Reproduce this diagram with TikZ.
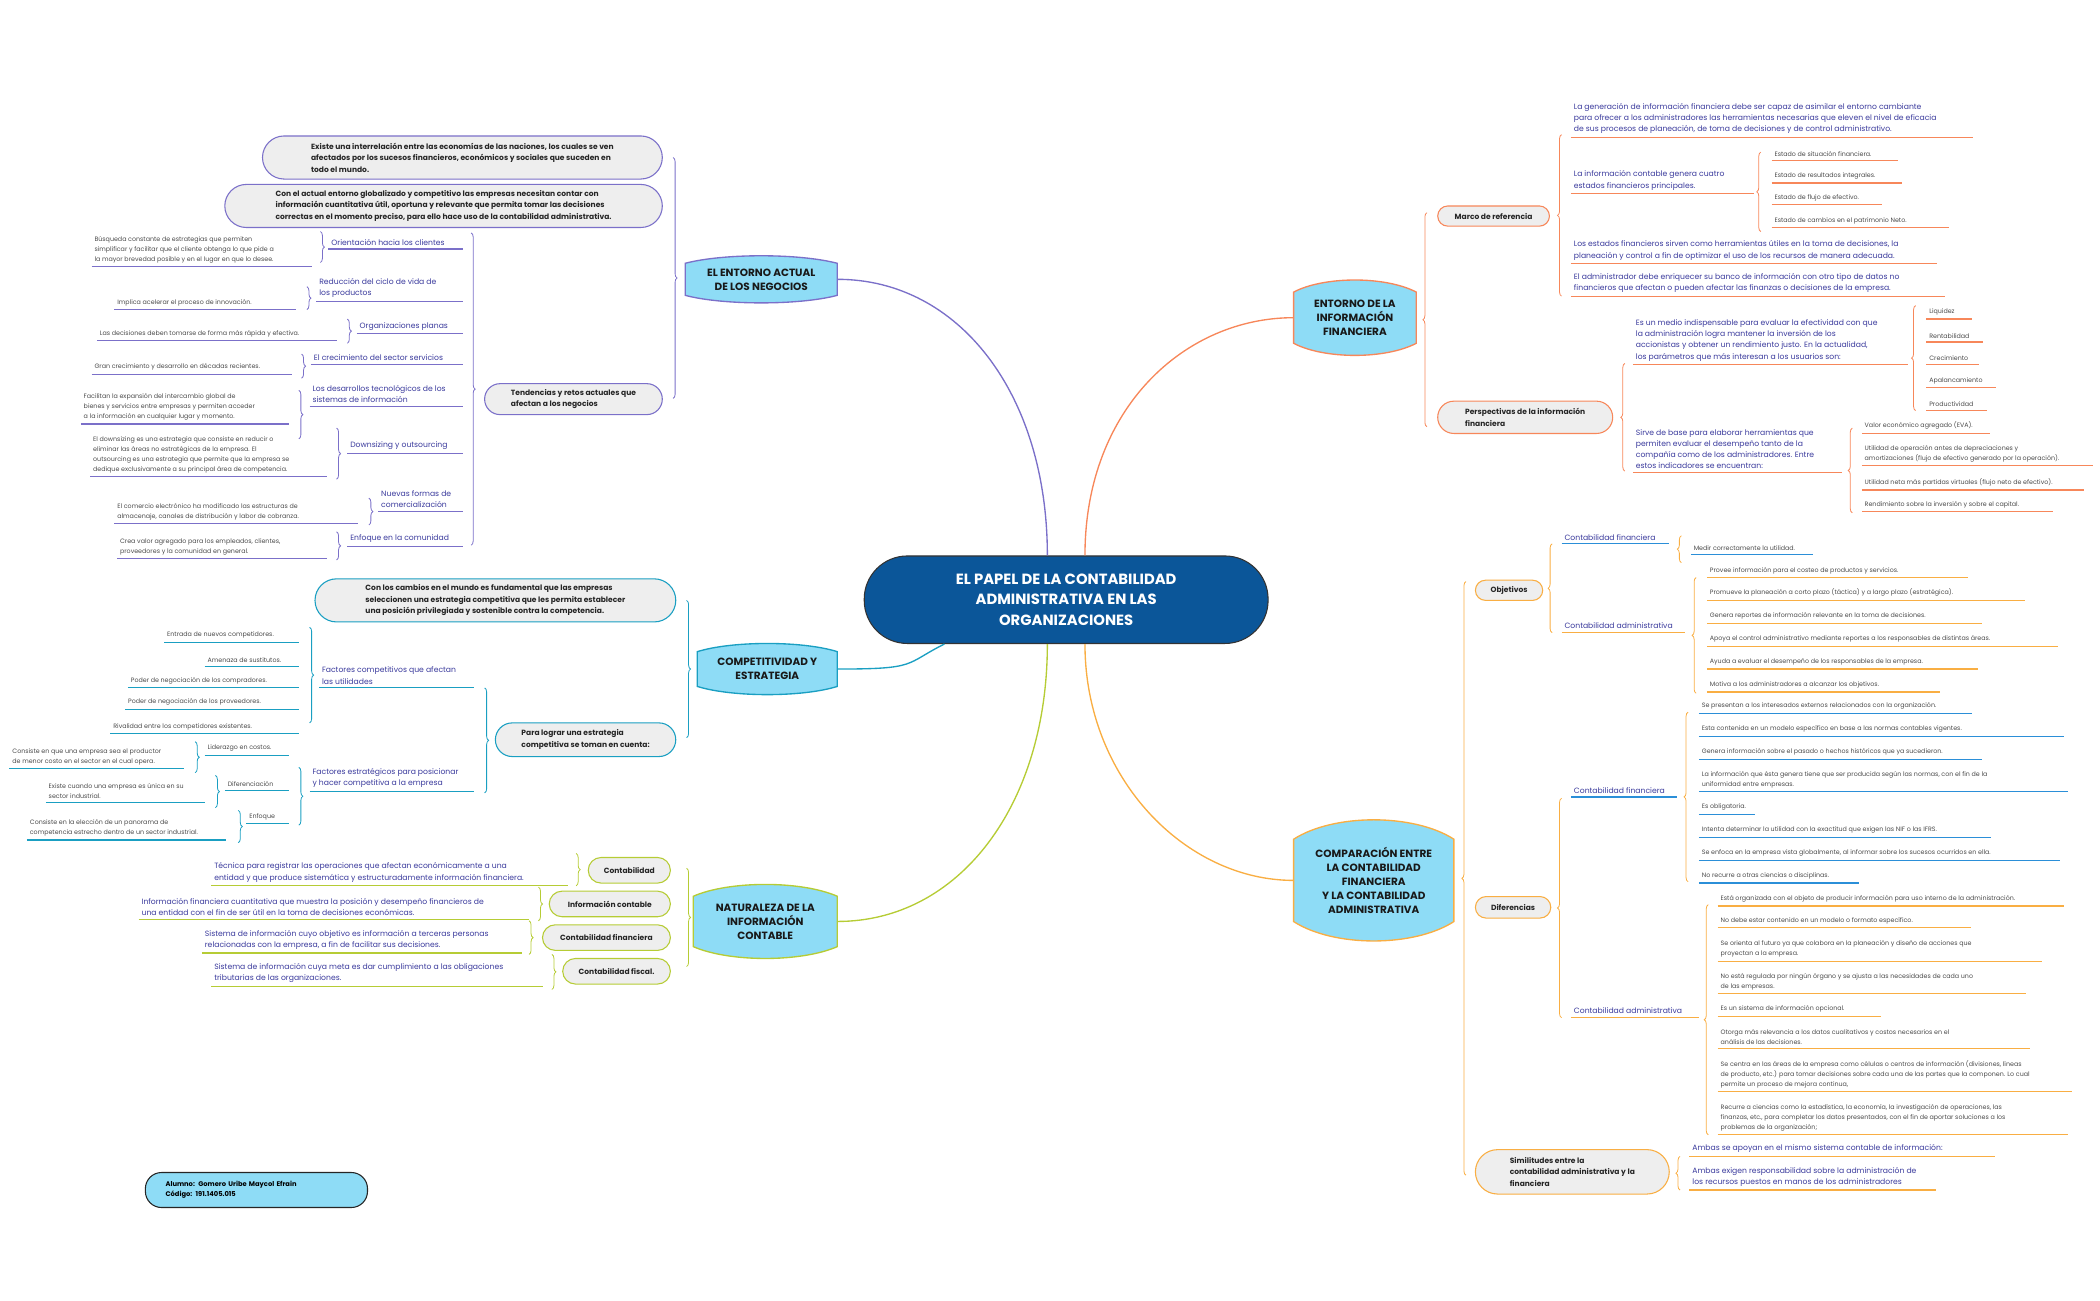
\documentclass[tikz,border=0pt]{standalone}
\usepackage{fontspec}
\setmainfont{Poppins}
\usetikzlibrary{decorations.pathreplacing}
\definecolor{pur}{HTML}{7B70C9}
\definecolor{txb}{HTML}{3A3A9C}
\definecolor{txg}{HTML}{4A4A4A}
\definecolor{ora}{HTML}{F7875A}
\definecolor{tea}{HTML}{1A9FC2}
\definecolor{grn}{HTML}{B6CC35}
\definecolor{yel}{HTML}{F9AE43}
\definecolor{lbl}{HTML}{8EDCF6}
\definecolor{gfl}{HTML}{EEEEEE}
\definecolor{ctrc}{HTML}{0B5699}
\definecolor{bul}{HTML}{2B8FD8}
\newcommand\fsm{\fontsize{4.7}{7.4}\selectfont}
\newcommand\fbl{\fontsize{5.7}{8.3}\selectfont}
\newcommand\fgr{\fontsize{5.6}{8.6}\selectfont\bfseries}
\newcommand\ftp{\fontsize{7.8}{10.4}\selectfont\bfseries}
\newcount\lfc
\newcommand\lf[6]{\global\advance\lfc by 1
 \node[anchor=south west,inner xsep=2pt,inner ysep=2.6pt,align=left,#5] (lf\the\lfc) at (#1,#3) {#6};
 \draw[#4,line width=0.9pt] (#1,#3) -- (#2,#3);}
\newcommand\brR[4]{\draw[#4,line width=0.6pt,decorate,decoration={brace,amplitude=3pt}] (#1,#2) -- (#1,#3);}
\newcommand\brL[4]{\draw[#4,line width=0.6pt,decorate,decoration={brace,amplitude=3pt}] (#1,#3) -- (#1,#2);}
\newcommand\gb[7]{% name x1 y1 x2 y2 color text
 \pgfmathsetmacro\gw{#4-#2}\pgfmathsetmacro\gh{#5-#3}\pgfmathsetmacro\gr{(#5-#3)/2}\pgfmathsetmacro\gt{#4-#2-2*\gr}
 \node[draw=#6,fill=gfl,line width=0.8pt,rounded corners=\gr pt,minimum width=\gw pt,minimum height=\gh pt,inner xsep=\gr pt,inner ysep=0pt,align=left,font=\fgr,text=black!85] (#1) at ({(#2+#4)/2},{(#3+#5)/2}) {#7};}
\newcommand\tp[7]{% name x1 y1 x2 y2 color text
 \pgfmathsetmacro\tb{(#5-#3)*0.16}\pgfmathsetmacro\tw{#4-#2}\pgfmathsetmacro\th{#5-#3}
 \filldraw[fill=lbl,draw=#6,line width=1pt] (#2,#3+\tb) -- (#2,#5-\tb) .. controls ({#2+0.25*\tw},{#5+\tb/3}) and ({#4-0.25*\tw},{#5+\tb/3}) .. (#4,#5-\tb) -- (#4,#3+\tb) .. controls ({#4-0.25*\tw},{#3-\tb/3}) and ({#2+0.25*\tw},{#3-\tb/3}) .. cycle;
 \node[minimum width=\tw pt,minimum height=\th pt,inner sep=0pt,align=center,font=\ftp,text=black!90] (#1) at ({(#2+#4)/2},{(#3+#5)/2}) {#7};}
\tikzset{st/.style={font=\fsm,text=txg},bt/.style={font=\fbl,text=txb}}
\begin{document}
\begin{tikzpicture}[x=1pt,y=-1pt]
\useasboundingbox (0,0) rectangle (1560,966);
% center
\node[draw=black!80,fill=ctrc,line width=0.8pt,rounded corners=32pt,minimum width=300pt,minimum height=65pt,align=center,text=white,font=\fontsize{11}{15.5}\selectfont\bfseries] (ctr) at (792,445.5) {EL PAPEL DE LA CONTABILIDAD\\ADMINISTRATIVA EN LAS\\ORGANIZACIONES};
% topics
\tp{t1}{509}{190}{622}{225}{pur}{EL ENTORNO ACTUAL\\DE LOS NEGOCIOS}
\tp{t2}{961}{208}{1052}{264}{ora}{ENTORNO DE LA\\INFORMACIÓN\\FINANCIERA}
\tp{t3}{518}{478}{622}{516}{tea}{COMPETITIVIDAD Y\\ESTRATEGIA}
\tp{t4}{515}{657}{622}{712}{grn}{NATURALEZA DE LA\\INFORMACIÓN\\CONTABLE}
\tp{t5}{961}{609}{1080}{699}{yel}{COMPARACIÓN ENTRE\\LA CONTABILIDAD\\FINANCIERA\\Y LA CONTABILIDAD\\ADMINISTRATIVA}
\draw[pur,line width=1pt] (ctr.113) .. controls +(0,-120) and +(90,0) .. (t1.east);
\draw[ora,line width=1pt] (ctr.67) .. controls +(0,-110) and +(-80,0) .. (t2.west);
\draw[tea,line width=1pt] (ctr.200) .. controls +(-30,15) and +(60,0) .. (t3.east);
\draw[grn,line width=1pt] (ctr.-113) .. controls +(0,120) and +(90,0) .. (t4.east);
\draw[yel,line width=1pt] (ctr.-67) .. controls +(0,100) and +(-80,0) .. (t5.west);
% ===== topic 1
\brR{500}{117}{296}{pur}
\gb{a1}{195}{101}{492}{133}{pur}{Existe una interrelación entre las economías de las naciones, los cuales se ven\\afectados por los sucesos financieros, económicos y sociales que suceden en\\todo el mundo.}
\gb{a2}{167}{137}{492}{169}{pur}{Con el actual entorno globalizado y competitivo las empresas necesitan contar con\\información cuantitativa útil, oportuna y relevante que permita tomar las decisiones\\correctas en el momento preciso, para ello hace uso de la contabilidad administrativa.}
\gb{a3}{360}{285}{492}{308}{pur}{Tendencias y retos actuales que\\afectan a los negocios}
\brR{350}{173}{405}{pur}
\lf{244}{344}{185}{pur}{bt}{Orientación hacia los clientes}
\brR{238}{172}{195}{pur}
\lf{68}{232}{198}{pur}{st}{Búsqueda constante de estrategias que permiten\\simplificar y facilitar que el cliente obtenga lo que pide a\\la mayor brevedad posible y en el lugar en que lo desee.}
\lf{235}{344}{224}{pur}{bt}{Reducción del ciclo de vida de\\los productos}
\brR{228}{213}{230}{pur}
\lf{85}{220}{230}{pur}{st}{Implica acelerar el proceso de innovación.}
\lf{265}{344}{248}{pur}{bt}{Organizaciones planas}
\brR{258}{237}{255}{pur}
\lf{72}{250}{253}{pur}{st}{Las decisiones deben tomarse de forma más rápida y efectiva.}
\lf{231}{344}{271}{pur}{bt}{El crecimiento del sector servicios}
\brR{224}{263}{281}{pur}
\lf{68}{217}{278}{pur}{st}{Gran crecimiento y desarrollo en décadas recientes.}
\lf{230}{344}{302}{pur}{bt}{Los desarrollos tecnológicos de los\\sistemas de información}
\brR{222}{290}{326}{pur}
\lf{60}{215}{315}{pur}{st}{Facilitan la expansión del intercambio global de\\bienes y servicios entre empresas y permiten acceder\\a la información en cualquier lugar y momento.}
\lf{258}{344}{337}{pur}{bt}{Downsizing y outsourcing}
\brR{250}{318}{356}{pur}
\lf{67}{243}{354}{pur}{st}{El downsizing es una estrategia que consiste en reducir o\\eliminar las áreas no estratégicas de la empresa. El\\outsourcing es una estrategia que permite que la empresa se\\dedique exclusivamente a su principal área de competencia.}
\lf{281}{344}{380}{pur}{bt}{Nuevas formas de\\comercialización}
\brR{274}{370}{390}{pur}
\lf{85}{266}{389}{pur}{st}{El comercio electrónico ha modificado las  estructuras de\\almacenaje, canales de distribución y labor de cobranza.}
\lf{258}{344}{406}{pur}{bt}{Enfoque en la comunidad}
\brR{250}{395}{416}{pur}
\lf{87}{243}{415}{pur}{st}{Crea valor agregado para los empleados, clientes,\\proveedores y la comunidad en general.}
% ===== topic 3
\brR{510}{446}{548}{tea}
\gb{b1}{234}{430}{502}{462}{tea}{Con los cambios en el mundo es fundamental que las empresas\\seleccionen una estrategia competitiva que les permita establecer\\una posición privilegiada y sostenible contra la competencia.}
\gb{b2}{368}{537}{502}{562}{tea}{Para lograr una estrategia\\competitiva se toman en cuenta:}
\brR{360}{511}{589}{tea}
\lf{237}{352}{511}{tea}{bt}{Factores competitivos que afectan\\las utilidades}
\brR{230}{466}{537}{tea}
\lf{122}{222}{477}{tea}{st}{Entrada de nuevos competidores.}
\lf{152}{222}{495}{tea}{st}{Amenaza de sustitutos.}
\lf{95}{222}{511}{tea}{st}{Poder de negociación de los compradores.}
\lf{93}{222}{527}{tea}{st}{Poder de negociación de los proveedores.}
\lf{82}{222}{545}{tea}{st}{Rivalidad entre los competidores existentes.}
\lf{230}{352}{588}{tea}{bt}{Factores estratégicos para posicionar\\y hacer competitiva a la empresa}
\brR{222}{570}{613}{tea}
\lf{152}{215}{561}{tea}{st}{Liderazgo en costos.}
\brR{145}{551}{574}{tea}
\lf{7}{137}{571}{tea}{st}{Consiste en que una empresa sea el productor\\de menor costo en el sector en el cual opera.}
\lf{167}{215}{587}{tea}{st}{Diferenciación}
\brR{160}{576}{600}{tea}
\lf{34}{152}{596}{tea}{st}{Existe cuando una empresa es única en su\\sector industrial.}
\lf{183}{215}{612}{tea}{st}{Enfoque}
\brR{177}{602}{626}{tea}
\lf{20}{168}{624}{tea}{st}{Consiste en la elección de un panorama de\\competencia estrecho dentro de un sector industrial.}
% ===== topic 4
\brR{510}{645}{718}{grn}
\gb{c1}{437}{637}{498}{656}{grn}{Contabilidad}
\brR{428}{634}{658}{grn}
\lf{157}{422}{658}{grn}{bt}{Técnica para registrar las operaciones que afectan económicamente a una\\entidad y que produce sistemática y estructuradamente información financiera.}
\gb{c2}{408}{662}{498}{681}{grn}{Información contable}
\brR{400}{659}{684}{grn}
\lf{103}{393}{683}{grn}{bt}{Información financiera cuantitativa que muestra la posición y desempeño financieros de\\una entidad con el fin de ser útil en la toma de decisiones económicas.}
\gb{c3}{403}{687}{498}{706}{grn}{Contabilidad financiera}
\brR{393}{684}{709}{grn}
\lf{150}{388}{708}{grn}{bt}{Sistema de información cuyo objetivo es información a terceras personas\\relacionadas con la empresa, a fin de facilitar sus decisiones.}
\gb{c4}{418}{712}{498}{731}{grn}{Contabilidad fiscal.}
\brR{410}{709}{735}{grn}
\lf{157}{403}{733}{grn}{bt}{Sistema de información cuya meta es dar cumplimiento a las obligaciones\\tributarias de las organizaciones.}
% student
\node[draw=black!85,fill=lbl,line width=0.8pt,rounded corners=12pt,minimum width=165pt,minimum height=26pt,text width=135pt,align=left,font=\fontsize{5}{7.4}\selectfont\bfseries,inner sep=0pt] (alu) at (190.5,884) {Alumno: Gomero Uribe Maycol Efrain\\Código: 191.1405.015};
% ===== topic 2
\brL{1060}{158}{317}{ora}
\gb{d1}{1068}{153}{1151}{168}{ora}{Marco de referencia}
\brL{1160}{100}{220}{ora}
\lf{1167}{1466}{102}{ora}{bt}{La generación de información financiera debe ser capaz de asimilar el entorno cambiante\\para ofrecer a los administradores las herramientas necesarias que eleven el nivel de eficacia\\de sus procesos de planeación, de toma de decisiones y de control administrativo.}
\lf{1167}{1303}{144}{ora}{bt}{La información contable genera cuatro\\estados financieros principales.}
\brL{1308}{113}{172}{ora}
\lf{1316}{1410}{119}{ora}{st}{Estado de situación financiera.}
\lf{1316}{1413}{136}{ora}{st}{Estado de resultados integrales.}
\lf{1316}{1398}{152}{ora}{st}{Estado de flujo de efectivo.}
\lf{1316}{1448}{169}{ora}{st}{Estado de cambios en el patrimonio Neto.}
\lf{1167}{1439}{196}{ora}{bt}{Los estados financieros sirven como herramientas útiles en la toma de decisiones, la\\planeación y control a fin de optimizar el uso de los recursos de manera adecuada.}
\lf{1167}{1445}{220}{ora}{bt}{El administrador debe enriquecer su banco de información con otro tipo de datos no\\financieros que afectan o pueden afectar las finanzas o decisiones de la empresa.}
\gb{d2}{1068}{298}{1198}{322}{ora}{Perspectivas de la información\\financiera}
\brL{1207}{270}{350}{ora}
\lf{1213}{1417}{271}{ora}{bt}{Es un medio indispensable para evaluar la efectividad con que\\la administración logra mantener la inversión de los\\accionistas y obtener un rendimiento justo. En la actualidad,\\los parámetros que más interesan a los usuarios son:}
\brL{1423}{227}{305}{ora}
\lf{1431}{1465}{237}{ora}{st}{Liquidez}
\lf{1431}{1473}{254}{ora}{st}{Rentabilidad}
\lf{1431}{1470}{271}{ora}{st}{Crecimiento}
\lf{1431}{1483}{288}{ora}{st}{Apalancamiento}
\lf{1431}{1476}{305}{ora}{st}{Productividad}
\lf{1213}{1368}{351}{ora}{bt}{Sirve de base para elaborar herramientas que\\permiten evaluar el desempeño tanto de la\\compañía como de los administradores. Entre\\estos indicadores se encuentran:}
\brL{1376}{318}{381}{ora}
\lf{1383}{1478}{322}{ora}{st}{Valor económico agregado (EVA).}
\lf{1383}{1555}{346}{ora}{st}{Utilidad de operación antes de depreciaciones y\\amortizaciones (flujo de efectivo generado por la operación).}
\lf{1383}{1548}{364}{ora}{st}{Utilidad neta más partidas virtuales (flujo neto de efectivo).}
\lf{1383}{1525}{380}{ora}{st}{Rendimiento sobre la inversión y sobre el capital.}
% ===== topic 5
\brL{1089}{432}{873}{yel}
\gb{e1}{1096}{431}{1146}{446}{yel}{Objetivos}
\brL{1153}{404}{470}{yel}
\lf{1160}{1240}{404}{bul}{bt}{Contabilidad financiera}
\brL{1249}{398}{418}{yel}
\lf{1256}{1347}{412}{bul}{st}{Medir correctamente la utilidad.}
\lf{1160}{1252}{470}{yel}{bt}{Contabilidad administrativa}
\brL{1260}{429}{515}{yel}
\lf{1268}{1462}{429}{yel}{st}{Provee información para el costeo de productos y servicios.}
\lf{1268}{1504}{446}{yel}{st}{Promueve la planeación a corto plazo (táctica) y a largo plazo (estratégica).}
\lf{1268}{1472}{463}{yel}{st}{Genera reportes de información relevante en la toma de decisiones.}
\lf{1268}{1529}{480}{yel}{st}{Apoya el control administrativo mediante reportes a los responsables de distintas áreas.}
\lf{1268}{1469}{497}{yel}{st}{Ayuda a evaluar el desempeño de los responsables de la empresa.}
\lf{1268}{1441}{514}{yel}{st}{Motiva a los administradores a alcanzar los objetivos.}
\gb{e2}{1096}{666}{1152}{682}{yel}{Diferencias}
\brL{1160}{593}{756}{yel}
\lf{1167}{1246}{592}{bul}{bt}{Contabilidad financiera}
\brL{1254}{529}{655}{yel}
\lf{1262}{1465}{530}{bul}{st}{Se presentan a los interesados externos relacionados con la organización.}
\lf{1262}{1533}{547}{bul}{st}{Esta contenida en un modelo específico en base a las normas contables vigentes.}
\lf{1262}{1472}{564}{bul}{st}{Genera información sobre el pasado o hechos históricos que ya sucedieron.}
\lf{1262}{1536}{588}{bul}{st}{La información que ésta genera tiene que ser producida según las normas, con el fin de la\\uniformidad entre empresas.}
\lf{1262}{1304}{605}{bul}{st}{Es obligatoria.}
\lf{1262}{1479}{622}{bul}{st}{Intenta determinar la utilidad con  la exactitud que exigen las NIF o las IFRS.}
\lf{1262}{1530}{639}{bul}{st}{Se enfoca en la empresa vista globalmente, al informar sobre los sucesos ocurridos en ella.}
\lf{1262}{1381}{656}{bul}{st}{No recurre a otras ciencias o disciplinas.}
\lf{1167}{1262}{756}{yel}{bt}{Contabilidad administrativa}
\brL{1269}{672}{843}{yel}
\lf{1276}{1533}{673}{yel}{st}{Está organizada con el objeto de producir información para uso interno de la administración.}
\lf{1276}{1464}{689}{yel}{st}{No debe estar contenido en un modelo o formato específico.}
\lf{1276}{1517}{714}{yel}{st}{Se orienta al futuro ya que colabora en la planeación y diseño de acciones que\\proyectan a la empresa.}
\lf{1276}{1505}{738}{yel}{st}{No está regulada por ningún órgano y se ajusta a las necesidades de cada uno\\de las empresas.}
\lf{1276}{1397}{755}{yel}{st}{Es un sistema de información opcional.}
\lf{1276}{1508}{779}{yel}{st}{Otorga más relevancia a los datos cualitativos y costos necesarios en el\\análisis de las decisiones.}
\lf{1276}{1539}{811}{yel}{st}{Se centra en las áreas de la empresa como células o centros de información  (divisiones, líneas\\de producto, etc.) para tomar decisiones sobre cada una de las partes que la componen. Lo cual\\permite un proceso de mejora continua,}
\lf{1276}{1536}{843}{yel}{st}{Recurre a ciencias como la estadística, la economía, la investigación de operaciones, las\\finanzas, etc., para completar los datos presentados, con el fin de aportar soluciones a los\\problemas de la organización;}
\gb{e3}{1096}{854}{1240}{887}{yel}{Similitudes entre la\\contabilidad administrativa y la\\financiera}
\brL{1248}{859}{884}{yel}
\lf{1255}{1482}{859}{yel}{bt}{Ambas se apoyan en el mismo sistema contable de información:}
\lf{1255}{1438}{884}{yel}{bt}{Ambas exigen responsabilidad sobre la administración de\\los recursos puestos en manos de los administradores}
\end{tikzpicture}
\end{document}
